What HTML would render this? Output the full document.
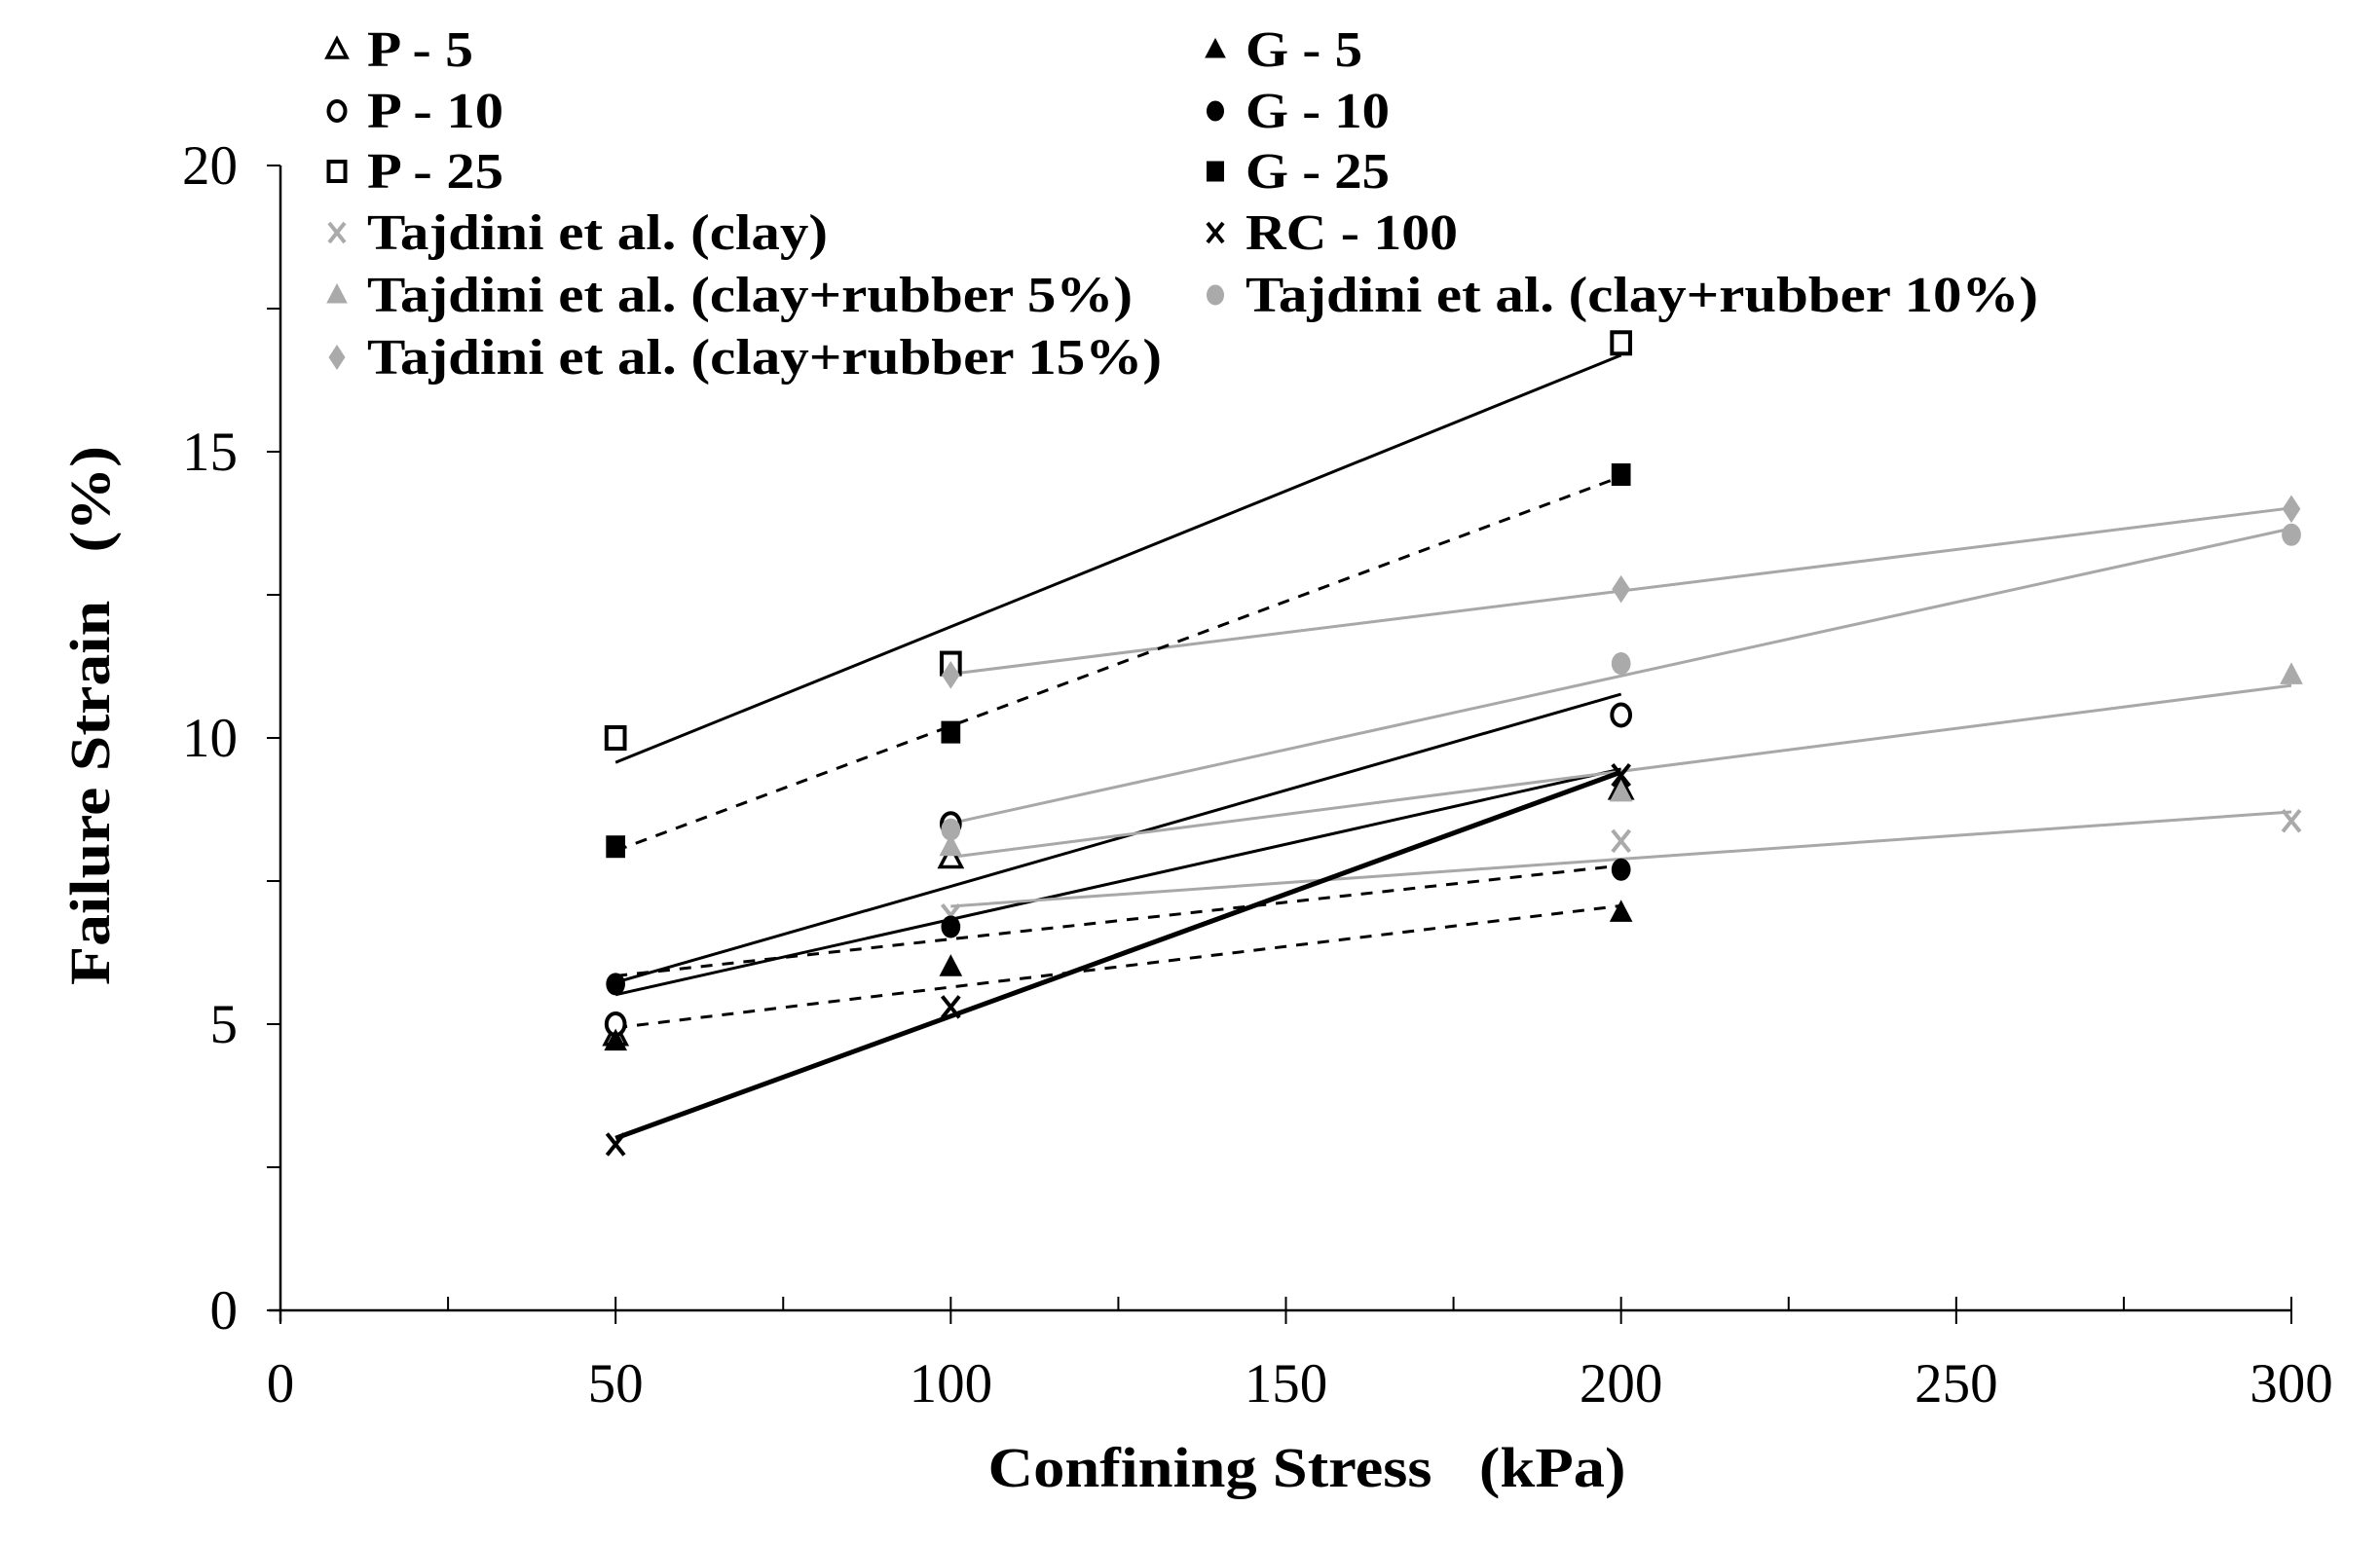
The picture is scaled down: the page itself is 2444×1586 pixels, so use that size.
<!DOCTYPE html>
<html><head><meta charset="utf-8"><style>
html,body{margin:0;padding:0;background:#fff;}
svg{display:block;}
text{font-family:"Liberation Serif","Times New Roman",serif;}
</style></head><body>
<svg id="chart" width="2444" height="1586" viewBox="0 0 2444 1586" xmlns="http://www.w3.org/2000/svg">
<g id="axes"></g>
<g id="lines"></g>
<g id="marks"></g>
<g id="legend"></g>
<text x="1342" y="1527" text-anchor="middle" font-size="58" font-weight="bold" textLength="655" lengthAdjust="spacingAndGlyphs" xml:space="preserve">Confining Stress   (kPa)</text>
<text transform="translate(112,735) rotate(-90)" text-anchor="middle" font-size="58" font-weight="bold" textLength="554" lengthAdjust="spacingAndGlyphs" xml:space="preserve">Failure Strain   (%)</text>
</svg>
<script>
const xTicks=[0,50,100,150,200,250,300];
const yTicks=[0,5,10,15,20];
const xOurs=[50,100,200];
const xTaj=[100,200,300];
const p5=[4.8,7.9,9.1];
const p10=[5.0,8.5,10.4];
const p25=[10.0,11.3,16.9];
const g5=[4.7,6.0,6.95];
const g10=[5.7,6.7,7.7];
const g25=[8.1,10.1,14.6];
const rc100=[2.9,5.3,9.35];
const tajClay=[6.9,8.2,8.55];
const tajR5=[8.1,9.05,11.1];
const tajR10=[8.4,11.3,13.55];
const tajR15=[11.1,12.6,14.0];

const NS="http://www.w3.org/2000/svg";
const X0=288,X1=2353,Y0=1346,Y1=170;
function sx(v){return X0+(v-0)*(X1-X0)/300;}
function sy(v){return Y0-(v-0)*(Y0-Y1)/20;}
function mk(tag,attrs,parent){const e=document.createElementNS(NS,tag);for(const k in attrs)e.setAttribute(k,attrs[k]);parent.appendChild(e);return e;}
const axes=document.getElementById('axes'),lines=document.getElementById('lines'),marks=document.getElementById('marks'),legend=document.getElementById('legend');

let xl=mk('line',{x1:X0-12,y1:Y0,x2:X1,y2:Y0,stroke:'#000','stroke-width':2.5},axes);


let yl=mk('line',{x1:X0,y1:Y0+12,x2:X0,y2:Y1,stroke:'#000','stroke-width':2.5},axes);


for(const t of xTicks){
  const x=sx(t);
  mk('line',{x1:x,y1:Y0-14,x2:x,y2:Y0+14,stroke:'#000','stroke-width':2},axes);
  const tx=mk('text',{x:x,y:1440,'text-anchor':'middle','font-size':57},axes);
  tx.textContent=t;
  
  
  if(t<300){const xm=sx(t+25);mk('line',{x1:xm,y1:Y0-14,x2:xm,y2:Y0,stroke:'#000','stroke-width':2},axes);}
}
for(const t of yTicks){
  const y=sy(t);
  mk('line',{x1:X0-14,y1:y,x2:X0,y2:y,stroke:'#000','stroke-width':2},axes);
  const ty=mk('text',{x:244,y:y+19,'text-anchor':'end','font-size':57},axes);
  ty.textContent=t;
  
  
  if(t<20){const ym=sy(t+2.5);mk('line',{x1:X0-14,y1:ym,x2:X0,y2:ym,stroke:'#000','stroke-width':2},axes);}
}

function fit(xs,ys){const n=xs.length;const mx=xs.reduce((a,b)=>a+b)/n,my=ys.reduce((a,b)=>a+b)/n;let num=0,den=0;for(let i=0;i<n;i++){num+=(xs[i]-mx)*(ys[i]-my);den+=(xs[i]-mx)**2;}const b=num/den;return v=>my+b*(v-mx);}

function marker(type,x,y,color,parent,r){
  r=r||11;let e;
  if(type==='tri'||type==='otri'){e=mk('polygon',{points:`${x},${y-r-1} ${x-r},${y+r-2} ${x+r},${y+r-2}`,fill:type==='tri'?color:'#fff',stroke:color,'stroke-width':type==='tri'?1:3.5},parent);}
  else if(type==='circ'||type==='ocirc'){e=mk('ellipse',{cx:x,cy:y,rx:r*0.85,ry:r,fill:type==='circ'?color:'#fff',stroke:color,'stroke-width':type==='circ'?1:4},parent);}
  else if(type==='sq'||type==='osq'){e=mk('rect',{x:x-r*0.85,y:y-r,width:r*1.7,height:r*2,fill:type==='sq'?color:'#fff',stroke:color,'stroke-width':type==='sq'?1:4},parent);}
  else if(type==='x'){e=mk('path',{d:`M${x-r*0.8},${y-r} L${x+r*0.8},${y+r} M${x+r*0.8},${y-r} L${x-r*0.8},${y+r}`,stroke:color,'stroke-width':4,fill:'none'},parent);}
  else if(type==='dia'){e=mk('polygon',{points:`${x},${y-r*1.3} ${x+r*0.85},${y} ${x},${y+r*1.3} ${x-r*0.85},${y}`,fill:color},parent);}
  return e;
}

const series=[
 {name:'P - 5',xs:xOurs,ys:p5,type:'otri',color:'#000',dash:null,w:3,col:0,row:0,tl:109},
 {name:'P - 10',xs:xOurs,ys:p10,type:'ocirc',color:'#000',dash:null,w:3,col:0,row:1,tl:140},
 {name:'P - 25',xs:xOurs,ys:p25,type:'osq',color:'#000',dash:null,w:3,col:0,row:2,tl:140},
 {name:'Tajdini et al. (clay)',xs:xTaj,ys:tajClay,type:'x',color:'#aaa',dash:null,w:3,col:0,row:3,tl:473},
 {name:'Tajdini et al. (clay+rubber 5%)',xs:xTaj,ys:tajR5,type:'tri',color:'#aaa',dash:null,w:3,col:0,row:4,tl:786},
 {name:'Tajdini et al. (clay+rubber 15%)',xs:xTaj,ys:tajR15,type:'dia',color:'#aaa',dash:null,w:3,col:0,row:5,tl:816},
 {name:'G - 5',xs:xOurs,ys:g5,type:'tri',color:'#000',dash:'12,10',w:3,col:1,row:0,tl:120},
 {name:'G - 10',xs:xOurs,ys:g10,type:'circ',color:'#000',dash:'12,10',w:3,col:1,row:1,tl:148},
 {name:'G - 25',xs:xOurs,ys:g25,type:'sq',color:'#000',dash:'12,10',w:3,col:1,row:2,tl:148},
 {name:'RC - 100',xs:xOurs,ys:rc100,type:'x',color:'#000',dash:null,w:5,col:1,row:3,tl:218},
 {name:'Tajdini et al. (clay+rubber 10%)',xs:xTaj,ys:tajR10,type:'circ',color:'#aaa',dash:null,w:3,col:1,row:4,tl:814}
];
const slug=s=>s.toLowerCase().replace(/[^a-z0-9]+/g,'-').replace(/^-|-$/g,'');
const rowsY=[51,114,176,239,303,367];
for(const s of series){
  const f=fit(s.xs,s.ys);const a=s.xs[0],b=s.xs[s.xs.length-1];
  const ln=mk('line',{x1:sx(a),y1:sy(f(a)),x2:sx(b),y2:sy(f(b)),stroke:s.color==='#aaa'?'#a8a8a8':'#000','stroke-width':s.w},lines);
  if(s.dash)ln.setAttribute('stroke-dasharray',s.dash);
  
  
  for(let i=0;i<s.xs.length;i++){
    const m=marker(s.type,sx(s.xs[i]),sy(s.ys[i]),s.color,marks);
    
    
  }
  const mx=s.col===0?346:1248, tx=s.col===0?377:1279, y=rowsY[s.row];
  const lm=marker(s.type,mx,y,s.color,legend,10);
  
  
  const t=mk('text',{x:tx,y:y+17,'font-size':52,'font-weight':'bold',textLength:s.tl,lengthAdjust:'spacingAndGlyphs'},legend);
  t.textContent=s.name;
  
  
}
</script>
</body></html>
